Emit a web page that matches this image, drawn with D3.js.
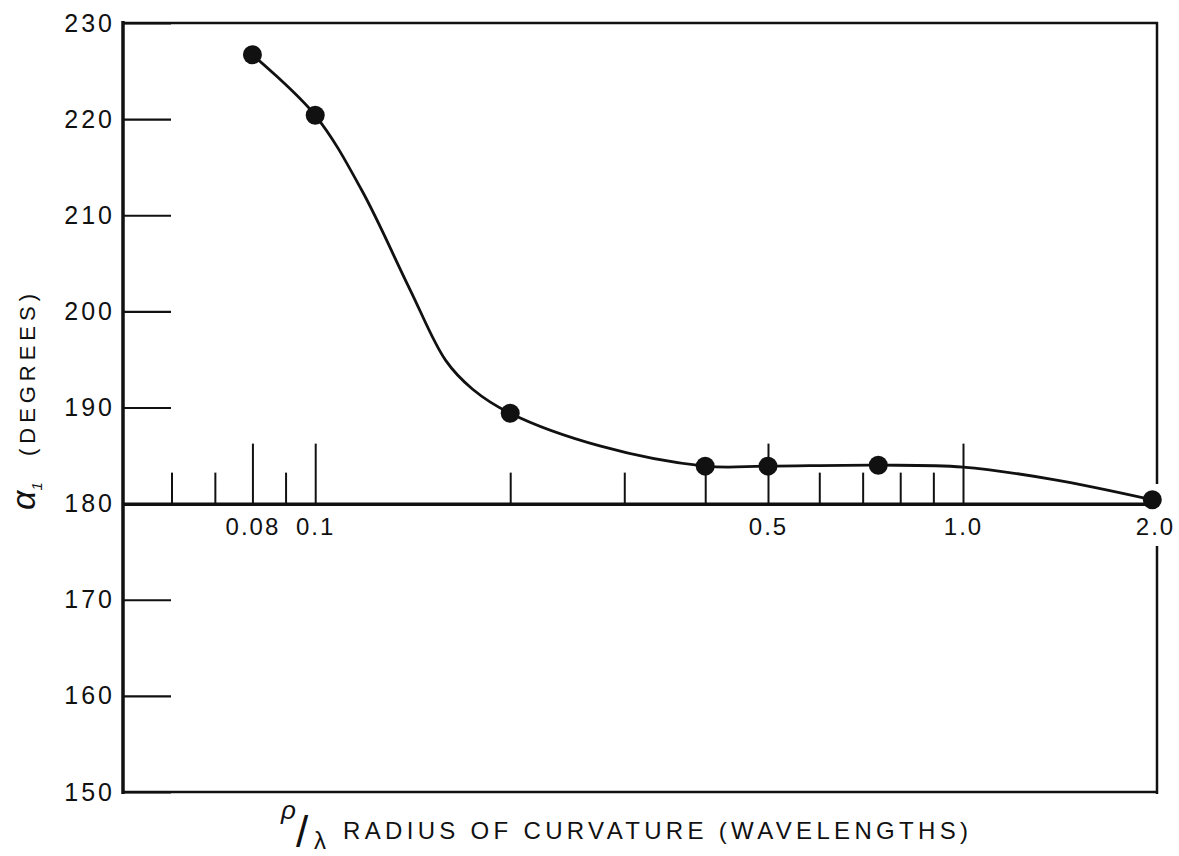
<!DOCTYPE html>
<html>
<head>
<meta charset="utf-8">
<script src="https://cdn.jsdelivr.net/npm/d3@7"></script>
<style>
body{margin:0;background:#fff;}
svg text{font-family:"Liberation Sans",Arial,sans-serif;fill:#111;}
</style>
</head>
<body>
<svg id="chart" width="1179" height="856"></svg>
<script>
// measured points (rho/lambda, alpha1 in degrees)
var radius = [0.08, 0.1, 0.2, 0.4, 0.5, 0.74, 1.96];
var alpha = [226.7, 220.4, 189.4, 183.9, 183.9, 184.0, 180.4];

// the faired curve
var curveRadius = [0.08, 0.1, 0.118, 0.14, 0.159, 0.175, 0.2, 0.275, 0.4, 0.5, 0.74, 1.0, 1.38, 1.96];
var curveAlpha = [226.7, 220.4, 212.6, 202.3, 194.9, 191.9, 189.4, 186.0, 183.9, 183.9, 184.0, 183.8, 182.5, 180.4];

// axis ticks
var yTicks = [150, 160, 170, 180, 190, 200, 210, 220, 230];
var minorTicks = [0.06, 0.07, 0.09, 0.2, 0.3, 0.4, 0.6, 0.7, 0.8, 0.9];
var majorTicks = [0.08, 0.1, 0.5, 1.0];
var xLabels = [0.08, 0.1, 0.5, 1.0, 2.0];

var svg = d3.select("#chart");
svg.append("rect").attr("width", 1179).attr("height", 856).attr("fill", "#fff");

var x = d3.scaleLog().domain([0.0505, 2]).range([123, 1158]);
var y = d3.scaleLinear().domain([150, 230]).range([792, 23]);

// frame (right side is broken by the last point and the 2.0 label)
function frameLine(x1, y1, x2, y2, w) {
  svg.append("line").attr("x1", x1).attr("y1", y1).attr("x2", x2).attr("y2", y2)
    .attr("stroke", "#111").attr("stroke-width", w);
}
frameLine(123, 21, 123, 794, 3.5);
frameLine(122, 23, 1158, 23, 2.5);
frameLine(1157, 22, 1157, 484, 2.5);
frameLine(1157, 546, 1157, 794, 2.5);
frameLine(122, 792, 1158, 792, 2.5);

// y axis, ticks pointing inward
var yAxis = svg.append("g")
  .attr("transform", "translate(123,0)")
  .call(d3.axisLeft(y).tickValues(yTicks).tickSizeInner(-48).tickSizeOuter(0).tickPadding(8));
yAxis.select(".domain").remove();
yAxis.selectAll("line").attr("stroke", "#111").attr("stroke-width", 2.2);
yAxis.selectAll("text").attr("font-size", 25).attr("letter-spacing", 3).attr("fill", "#111");

// x axis drawn along alpha = 180
var x0 = y(180);
var minorAxis = svg.append("g")
  .attr("transform", "translate(0," + x0 + ")")
  .call(d3.axisTop(x).tickValues(minorTicks).tickSize(31).tickSizeOuter(0).tickFormat(""));
minorAxis.select(".domain").attr("stroke", "#111").attr("stroke-width", 3.5);
minorAxis.selectAll("line").attr("stroke", "#111").attr("stroke-width", 2);

var majorAxis = svg.append("g")
  .attr("transform", "translate(0," + x0 + ")")
  .call(d3.axisTop(x).tickValues(majorTicks).tickSize(60).tickFormat(""));
majorAxis.select(".domain").remove();
majorAxis.selectAll("line").attr("stroke", "#111").attr("stroke-width", 2);

var labelAxis = svg.append("g")
  .attr("transform", "translate(0," + x0 + ")")
  .call(d3.axisBottom(x).tickValues(xLabels).tickSize(0).tickPadding(14)
    .tickFormat(function(d) { return d >= 1 ? d.toFixed(1) : String(d); }));
labelAxis.select(".domain").remove();
labelAxis.selectAll("text").attr("font-size", 24).attr("letter-spacing", 2).attr("fill", "#111");
labelAxis.selectAll("text").filter(function(d) { return d === 2; }).attr("dx", -3);

// curve
var curve = curveRadius.map(function(r, i) { return [r, curveAlpha[i]]; });
svg.append("path")
  .datum(curve)
  .attr("fill", "none")
  .attr("stroke", "#111")
  .attr("stroke-width", 2.8)
  .attr("d", d3.line()
    .x(function(d) { return x(d[0]); })
    .y(function(d) { return y(d[1]); })
    .curve(d3.curveCatmullRom.alpha(0.5)));

// points
svg.selectAll(".pt")
  .data(radius)
  .enter().append("circle")
  .attr("class", "pt")
  .attr("cx", function(d) { return x(d); })
  .attr("cy", function(d, i) { return y(alpha[i]); })
  .attr("r", 9.5)
  .attr("fill", "#111");

// y title
var yt = svg.append("g").attr("transform", "translate(35,0) rotate(-90)");
var a1 = yt.append("text").attr("x", -510).attr("y", 0).attr("font-size", 34).attr("font-style", "italic");
a1.append("tspan").text("α");
a1.append("tspan").attr("font-size", 15).attr("dy", 7).text("1");
yt.append("text").attr("x", -456).attr("y", 0).attr("font-size", 22)
  .attr("textLength", 162).attr("lengthAdjust", "spacing").text("(DEGREES)");

// x title
svg.append("text").attr("x", 281).attr("y", 819).attr("font-size", 26).attr("font-style", "italic").text("ρ");
svg.append("text").attr("x", 296).attr("y", 847).attr("font-size", 44).text("/");
svg.append("text").attr("x", 314).attr("y", 849).attr("font-size", 24).text("λ");
svg.append("text").attr("x", 343).attr("y", 839).attr("font-size", 24)
  .attr("textLength", 625).attr("lengthAdjust", "spacing").text("RADIUS OF CURVATURE (WAVELENGTHS)");
</script>
</body>
</html>
